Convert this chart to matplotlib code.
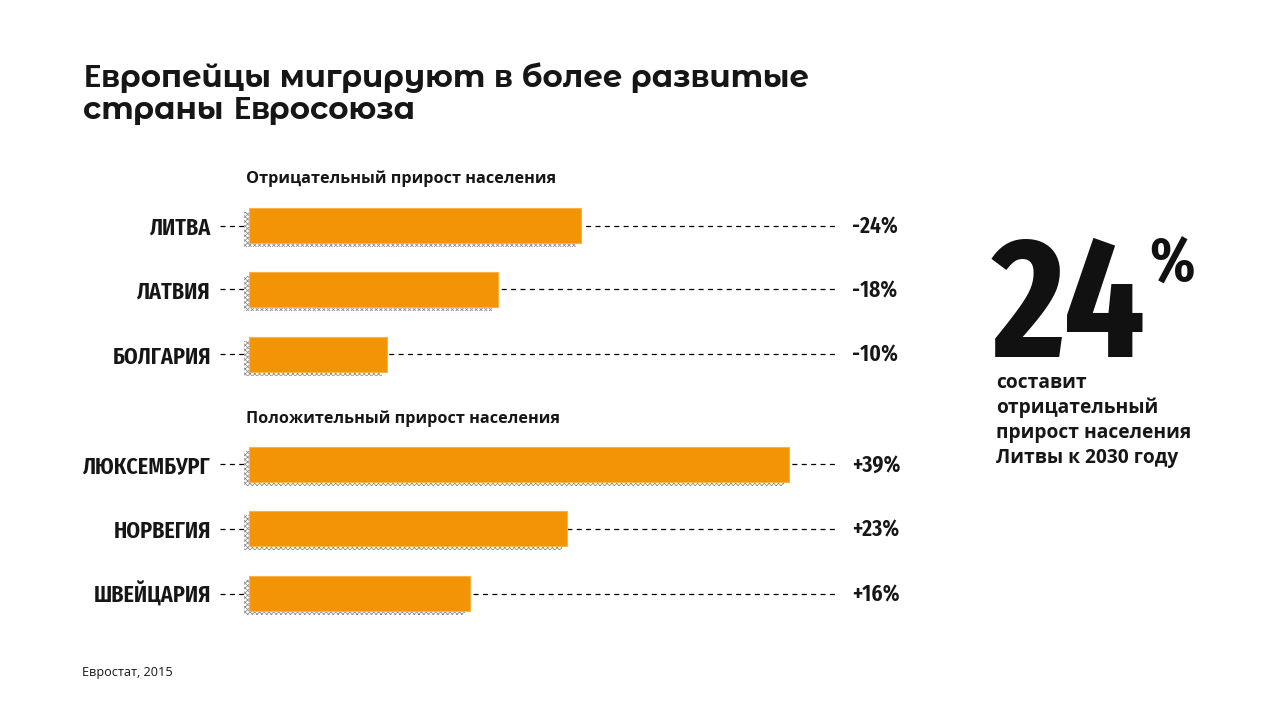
import matplotlib
matplotlib.use("Agg")
import matplotlib.pyplot as plt
from matplotlib import font_manager as fm
from matplotlib.font_manager import FontProperties, get_font, findfont
from matplotlib.textpath import TextPath
try:
    from matplotlib.ft2font import LoadFlags
    NOHINT = LoadFlags.NO_HINTING
except Exception:
    from matplotlib.ft2font import LOAD_NO_HINTING as NOHINT

# ---- data ----
title_lines = ["Европейцы мигрируют в более развитые", "страны Евросоюза"]
group_titles = ["Отрицательный прирост населения", "Положительный прирост населения"]
countries = ["ЛИТВА", "ЛАТВИЯ", "БОЛГАРИЯ", "ЛЮКСЕМБУРГ", "НОРВЕГИЯ", "ШВЕЙЦАРИЯ"]
values = [24, 18, 10, 39, 23, 16]
value_labels = ["-24%", "-18%", "-10%", "+39%", "+23%", "+16%"]
big_number = "24"
big_unit = "%"
side_lines = ["составит", "отрицательный", "прирост населения", "Литвы к 2030 году"]
source = "Евростат, 2015"

# ---- layout (pixels) ----
W, H = 1280, 720
X0 = 249            # pixel x of 0 %
PX_PER_PCT = 13.84
row_y = [225.5, 289, 354, 464, 528.5, 593.5]
group_base = [183, 423]
title_base = [87, 119]
side_base = [388, 413, 438, 463]
bar_h = 35

names = {f.name for f in fm.fontManager.ttflist}
def pick(cands):
    for c in cands:
        if c in names:
            return c
    return "DejaVu Sans"

TITLE_F = pick(["Montserrat Alternates", "Lato"])
E_F = pick(["Lato", "Open Sans"])
COND_F = pick(["Fira Sans Extra Condensed", "Roboto Condensed", "PT Sans Narrow"])
BODY_F = pick(["Open Sans", "Noto Sans"])

def prop(fam, wt):
    return FontProperties(family=fam, weight=wt, style="normal")

def glyph_h(s, fam, wt, size=100):
    e = TextPath((0, 0), s, size=size, prop=prop(fam, wt)).get_extents()
    return e.height, e.width

def size_for(s, fam, wt, target_w=None, target_h=None):
    h, w = glyph_h(s, fam, wt)
    cands = []
    if target_w:
        cands.append(100 * target_w / w)
    if target_h:
        cands.append(100 * target_h / h)
    return min(cands) * 72 / 100   # points at dpi 100

def glyph_metrics(ch, fam, wt, size_pt):
    f = get_font(findfont(prop(fam, wt)))
    f.set_size(size_pt, 100)
    g = f.load_char(ord(ch), flags=NOHINT)
    return g.linearHoriAdvance / 65536, g.horiBearingX / 64

def pct(px):
    return (px - X0) / PX_PER_PCT

fig = plt.figure(figsize=(12.8, 7.2), dpi=100)
fig.patch.set_facecolor("white")
ax = fig.add_axes([0, 0, 1, 1])
ax.set_xlim(pct(0), pct(W))
ax.set_ylim(H, 0)
ax.axis("off")

ink = "#161616"
orange = "#F39306"
plt.rcParams["hatch.linewidth"] = 0.55
plt.rcParams["hatch.color"] = "#8a8a8a"

lab_size = size_for("ЛЮКСЕМБУРГ", COND_F, 600, target_w=128, target_h=21)
val_size = size_for("-24%", COND_F, 600, target_w=44, target_h=20)

for y, v, name, lab in zip(row_y, values, countries, value_labels):
    ax.plot([pct(220), pct(836)], [y, y], color="black", lw=0.9,
            ls=(0, (4, 3.5)), zorder=1)
    ax.barh(y + 4, v, left=-5 / PX_PER_PCT, height=bar_h, color="white",
            edgecolor="#8a8a8a", hatch="xxxxxxx", lw=0, zorder=2)
    ax.barh(y, v, height=bar_h, color=orange, edgecolor="#F7B24A",
            lw=0.8, zorder=3)
    ax.text(pct(211), y + 9.5, name, ha="right", va="baseline", fontsize=lab_size,
            fontweight=600, family=COND_F, style="normal", color=ink)
    ax.text(pct(852), y + 8, lab, ha="left", va="baseline", fontsize=val_size,
            fontweight=600, family=COND_F, style="normal", color=ink)

grp_size = size_for(group_titles[0], BODY_F, 700, target_w=307)
for gb, gt in zip(group_base, group_titles):
    ax.text(pct(246), gb, gt, ha="left", va="baseline", fontsize=grp_size,
            fontweight=700, family=BODY_F, style="normal", color=ink)

# title: Montserrat Alternates, with the Cyrillic "Е" set in a plain face
t_size = size_for(title_lines[0], TITLE_F, 700, target_w=726)
capM, _ = glyph_h("Н", TITLE_F, 700)
capE, _ = glyph_h("Н", E_F, 900)
e_size = t_size * capM / capE
for tb, tl in zip(title_base, title_lines):
    runs = []
    for ch in tl:
        fam, wt, sz = (E_F, 900, e_size) if ch == "Е" else (TITLE_F, 700, t_size)
        if runs and runs[-1][1] == fam:
            runs[-1][0] += ch
        else:
            runs.append([ch, fam, wt, sz])
    pen = 82.0
    for txt, fam, wt, sz in runs:
        lsb = glyph_metrics(txt[0], fam, wt, sz)[1]
        fig.text((pen + lsb) / W, 1 - tb / H, txt, ha="left", va="baseline",
                 fontsize=sz, fontweight=wt, family=fam, style="normal", color=ink)
        pen += sum(glyph_metrics(c, fam, wt, sz)[0] for c in txt)

big_size = size_for(big_number, COND_F, 700, target_w=152, target_h=132)
fig.text(993 / W, 1 - 357 / H, big_number, ha="left", va="baseline",
         fontsize=big_size, fontweight=700, family=COND_F, style="normal", color="#111111")
pc_size = size_for(big_unit, COND_F, 700, target_w=42, target_h=58)
fig.text(1149 / W, 1 - 282 / H, big_unit, ha="left", va="baseline",
         fontsize=pc_size, fontweight=700, family=COND_F, style="normal", color="#111111")

side_size = size_for(side_lines[2], BODY_F, 700, target_w=191)
for sb, sl in zip(side_base, side_lines):
    fig.text(996 / W, 1 - sb / H, sl, ha="left", va="baseline", fontsize=side_size,
             fontweight=700, family=BODY_F, style="normal", color=ink)

src_size = size_for(source, BODY_F, 400, target_w=88)
fig.text(82 / W, 1 - 676 / H, source, ha="left", va="baseline", fontsize=src_size,
         family=BODY_F, style="normal", color=ink)

fig.savefig("out.png", dpi=100, facecolor="white")
